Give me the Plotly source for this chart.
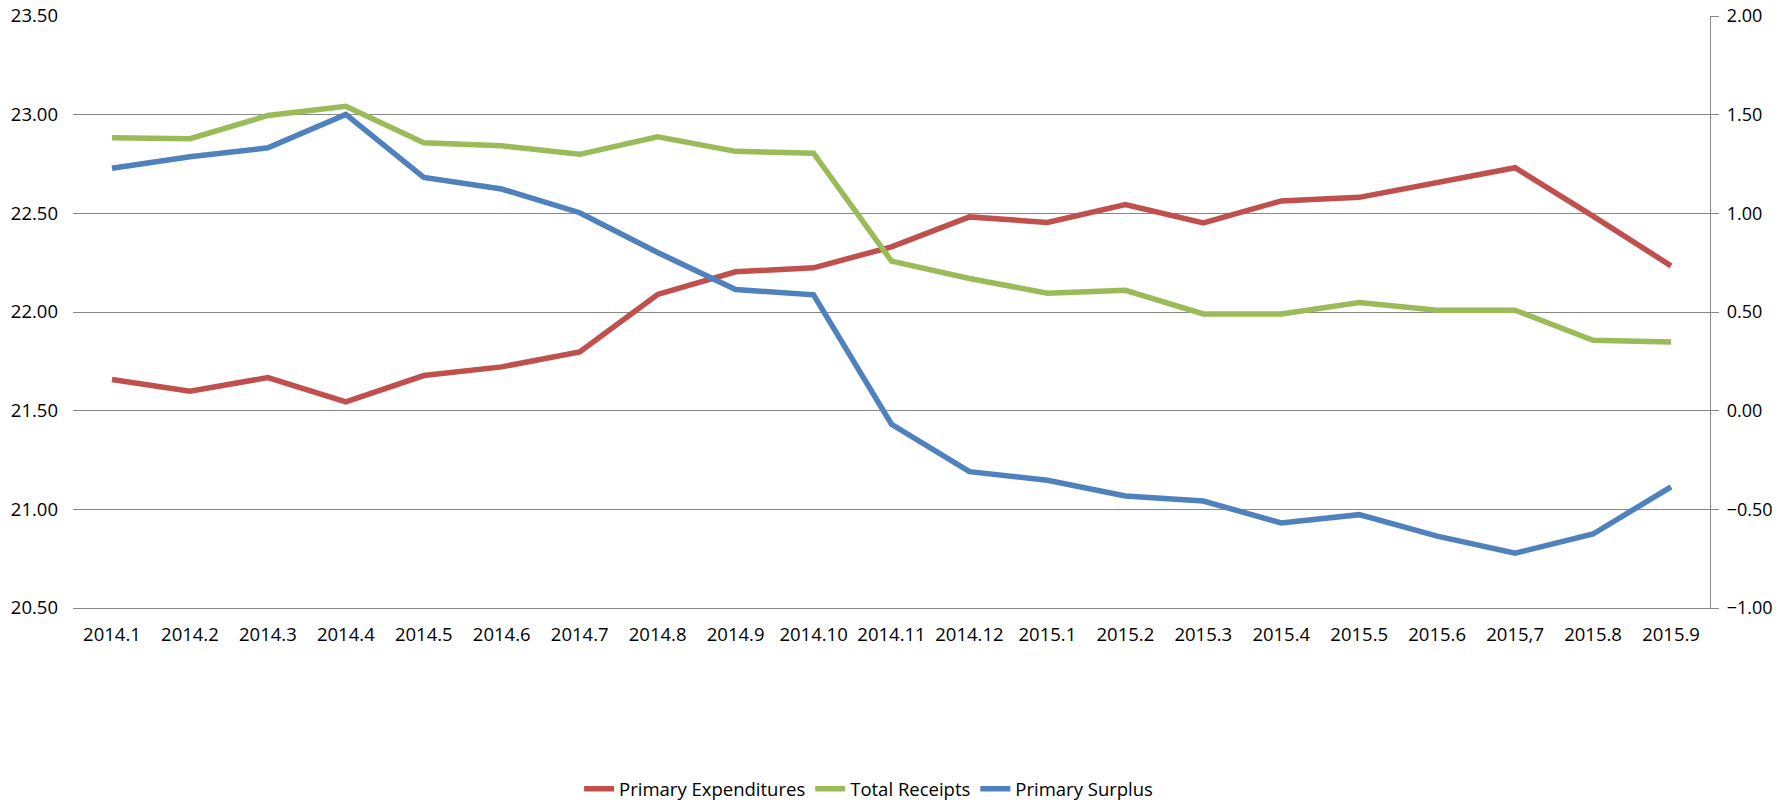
import plotly.graph_objects as go

categories = ["2014.1", "2014.2", "2014.3", "2014.4", "2014.5", "2014.6", "2014.7", "2014.8",
              "2014.9", "2014.10", "2014.11", "2014.12", "2015.1", "2015.2", "2015.3", "2015.4",
              "2015.5", "2015.6", "2015,7", "2015.8", "2015.9"]

primary_expenditures = [21.658, 21.598, 21.668, 21.545, 21.678, 21.722, 21.798, 22.089, 22.204,
                        22.224, 22.330, 22.482, 22.454, 22.545, 22.452, 22.563, 22.581, 22.655,
                        22.731, 22.486, 22.234]

total_receipts = [22.883, 22.878, 22.996, 23.042, 22.858, 22.842, 22.799, 22.888, 22.814,
                  22.805, 22.258, 22.170, 22.095, 22.110, 21.990, 21.990, 22.048, 22.009,
                  22.009, 21.857, 21.848]

primary_surplus = [1.228, 1.287, 1.332, 1.501, 1.182, 1.123, 1.003, 0.802, 0.614, 0.587,
                   -0.069, -0.309, -0.353, -0.432, -0.458, -0.569, -0.527, -0.636, -0.722,
                   -0.625, -0.386]

RED = "#C0504D"
GREEN = "#9BBB59"
BLUE = "#4F81BD"
GRID = "#888888"
FONT = "Open Sans"

fig = go.Figure()
fig.add_trace(go.Scatter(x=categories, y=primary_expenditures, name="Primary Expenditures",
                         mode="lines", line=dict(color=RED, width=5.5), yaxis="y"))
fig.add_trace(go.Scatter(x=categories, y=total_receipts, name="Total Receipts",
                         mode="lines", line=dict(color=GREEN, width=5.5), yaxis="y"))
fig.add_trace(go.Scatter(x=categories, y=primary_surplus, name="Primary Surplus",
                         mode="lines", line=dict(color=BLUE, width=5.5), yaxis="y2"))

fig.update_layout(
    width=1783, height=802,
    margin=dict(l=73, r=73, t=16, b=194, autoexpand=False),
    paper_bgcolor="white", plot_bgcolor="white",
    font=dict(family=FONT, size=18, color="#000000"),
    showlegend=True,
    legend=dict(orientation="h", x=0.486, xanchor="center", y=-0.306, yanchor="middle",
                font=dict(size=18.5), traceorder="normal"),
    xaxis=dict(type="category", range=[-0.5, 20.5], showgrid=False, zeroline=False,
               showline=True, linecolor=GRID, linewidth=1.3, ticks="", automargin=False,
               ticklabelstandoff=10, tickfont=dict(size=18.5)),
    yaxis=dict(range=[20.5, 23.5], dtick=0.5, tick0=20.5, tickformat=".2f", automargin=False,
               showgrid=True, gridcolor=GRID, gridwidth=1.3, zeroline=False,
               showline=False, ticks="", ticklabelstandoff=14, tickfont=dict(size=18.5)),
    yaxis2=dict(range=[-1, 2], dtick=0.5, tick0=-1, tickformat=".2f", overlaying="y",
                side="right", showgrid=False, zeroline=False, showline=True, automargin=False,
                linecolor=GRID, linewidth=1.3, ticks="outside", ticklen=8,
                tickcolor=GRID, tickwidth=1.3, ticklabelstandoff=4, tickfont=dict(size=18)),
)

fig.write_html("out.html", config={"displayModeBar": False},
               post_script="document.body.style.margin='0px';document.body.style.overflow='hidden';")
